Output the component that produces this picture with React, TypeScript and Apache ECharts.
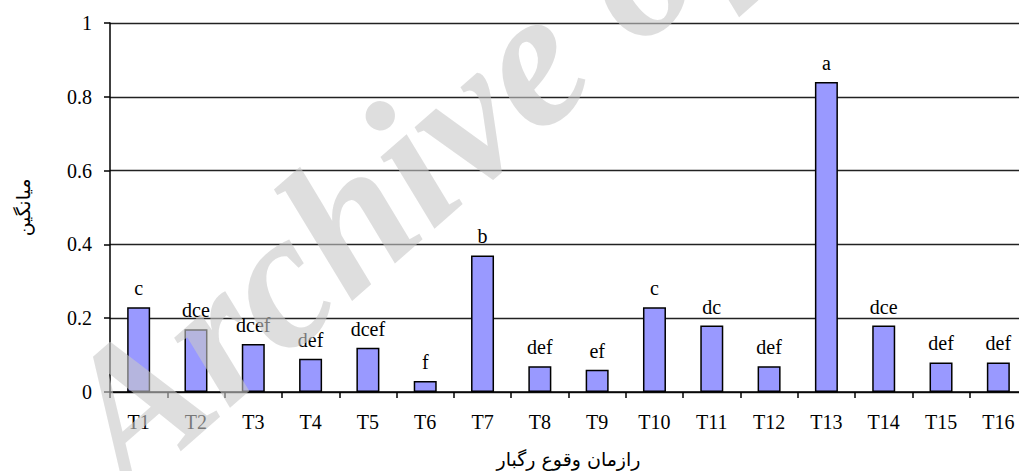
import React, { useEffect, useRef } from "react";
import * as echarts from "echarts";

const categories = ["T1", "T2", "T3", "T4", "T5", "T6", "T7", "T8", "T9", "T10", "T11", "T12", "T13", "T14", "T15", "T16"];
const meanValues = [0.23, 0.17, 0.13, 0.09, 0.12, 0.03, 0.37, 0.07, 0.06, 0.23, 0.18, 0.07, 0.84, 0.18, 0.08, 0.08];
const groupLetters = ["c", "dce", "dcef", "def", "dcef", "f", "b", "def", "ef", "c", "dc", "def", "a", "dce", "def", "def"];
const yTicks = [0, 0.2, 0.4, 0.6, 0.8, 1];
const xAxisTitle = "رازمان وقوع رگبار";
const yAxisTitle = "میانگین";
const watermarkText = "Archive of SID";

const SERIF = "Liberation Serif";
const ARABIC = "DejaVu Sans";

export default function App() {
  const ref = useRef<HTMLDivElement>(null);
  useEffect(() => {
    if (!ref.current) return;
    const chart = echarts.init(ref.current, null, { renderer: "svg" });
    chart.setOption({
      animation: false,
      backgroundColor: "#ffffff",
      grid: { left: 110, top: 23, width: 917, height: 369, containLabel: false, outerBoundsMode: "none" },
      xAxis: {
        type: "category",
        data: categories,
        name: xAxisTitle,
        nameLocation: "middle",
        nameGap: 57,
        nameTextStyle: { fontFamily: ARABIC, fontSize: 19, color: "#000" },
        axisLine: { show: true, lineStyle: { color: "#000", width: 1.5 } },
        axisTick: { show: true, alignWithLabel: false, length: 6, lineStyle: { color: "#000", width: 1.5 } },
        axisLabel: { fontFamily: SERIF, fontSize: 20, color: "#000", margin: 20, interval: 0 },
        splitLine: { show: false },
      },
      yAxis: {
        type: "value",
        min: yTicks[0],
        max: yTicks[yTicks.length - 1],
        interval: 0.2,
        name: yAxisTitle,
        nameLocation: "middle",
        nameGap: 78,
        nameRotate: 90,
        nameTextStyle: { fontFamily: ARABIC, fontSize: 19, color: "#000" },
        axisLine: { show: true, lineStyle: { color: "#000", width: 1.5 } },
        axisTick: { show: true, length: 6, lineStyle: { color: "#000", width: 1.5 } },
        axisLabel: { fontFamily: SERIF, fontSize: 20, color: "#000", margin: 18 },
        splitLine: { show: true, lineStyle: { color: "#222", width: 1.3 } },
      },
      series: [
        {
          type: "bar",
          data: meanValues,
          barWidth: 23,
          itemStyle: { color: "#9999ff", borderColor: "#000", borderWidth: 1.5 },
          label: {
            show: true,
            position: "top",
            distance: 9,
            fontFamily: SERIF,
            fontSize: 20,
            color: "#000",
            formatter: (p: any) => groupLetters[p.dataIndex],
          },
        },
      ],
      graphic: [
        {
          type: "text",
          z: 100,
          x: 150,
          y: 520,
          rotation: 0.72,
          silent: true,
          style: {
            text: watermarkText,
            x: 0,
            y: 0,
            align: "left",
            verticalAlign: "bottom",
            font: "italic bold 195px Liberation Serif",
            fill: "rgba(200,200,200,0.6)",
          },
        },
      ],
    });
    return () => chart.dispose();
  }, []);
  return (
    <div style={{ position: "absolute", left: 0, top: 0, width: 1019, height: 471, overflow: "hidden", background: "#fff" }}>
      <div ref={ref} style={{ width: 1019, height: 471 }} />
    </div>
  );
}
